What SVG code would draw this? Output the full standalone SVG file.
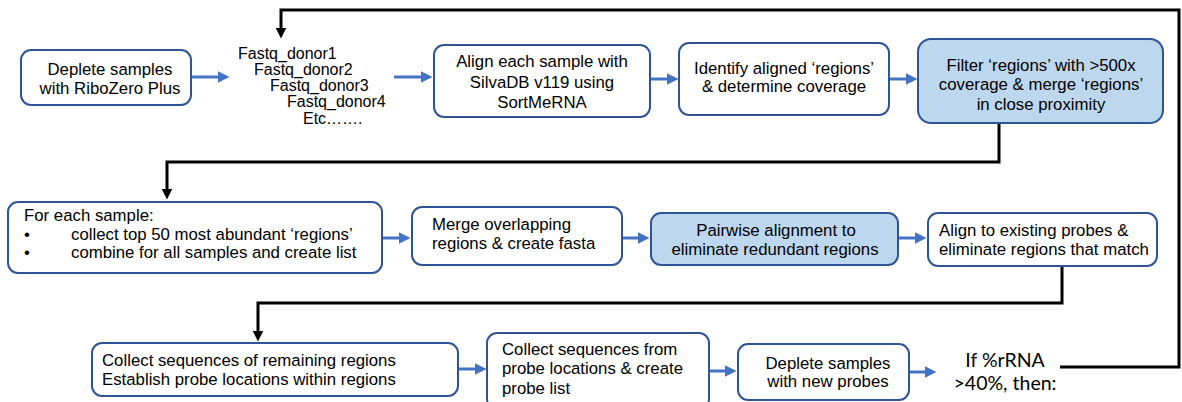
<svg xmlns="http://www.w3.org/2000/svg" width="1182" height="402" viewBox="0 0 1182 402">
<style>
.box{fill:#fff;stroke:#2F5597;stroke-width:2}
.hl{fill:#BDD7EE}
.t{font-family:"Liberation Sans",Arial,sans-serif;font-size:16.8px;fill:#000}
.fq{font-family:"Liberation Sans",Arial,sans-serif;font-size:16px;fill:#000}
.c{text-anchor:middle}
.flow{stroke:#4472C4;stroke-width:3;fill:none;marker-end:url(#ab)}
.loop{stroke:#000;stroke-width:3;fill:none;stroke-linejoin:miter;marker-end:url(#ak)}
.cal{font-family:Lato,"Open Sans",sans-serif;font-size:19.5px;fill:#000;text-anchor:middle}
</style>
<defs>
<marker id="ab" markerUnits="userSpaceOnUse" markerWidth="12" markerHeight="12" viewBox="0 0 12 12" refX="0.5" refY="6" orient="auto"><path d="M0,0 L12,6 L0,12 z" fill="#4472C4"/></marker>
<marker id="ak" markerUnits="userSpaceOnUse" markerWidth="11" markerHeight="11" viewBox="0 0 11 11" refX="0.5" refY="5.5" orient="auto"><path d="M0,0 L11,5.5 L0,11 z" fill="#000"/></marker>
</defs>
<rect width="1182" height="402" fill="#fff"/>
<g id="connectors">
<path class="flow" d="M191,77 H218"/>
<path class="flow" d="M394,77 H421"/>
<path class="flow" d="M650,79 H667"/>
<path class="flow" d="M889,79 H906"/>
<path class="flow" d="M382,238 H399"/>
<path class="flow" d="M622,238 H638"/>
<path class="flow" d="M898,238 H915"/>
<path class="flow" d="M458,369 H475"/>
<path class="flow" d="M709,371 H725"/>
<path class="flow" d="M909,372 H925"/>
<path class="loop" d="M999,123 V162 H167 V189"/>
<path class="loop" d="M1062,266 V303 H258 V331"/>
<path class="loop" d="M1060,367 H1179 V10 H281 V28"/>
</g>
<g id="deplete1">
<rect class="box" x="21" y="50" width="170" height="55" rx="10"/>
<text class="t c" x="110" y="75">Deplete samples</text>
<text class="t c" x="110" y="93.5">with RiboZero Plus</text>
</g>
<g id="fastq">
<text class="fq" x="238" y="58.5">Fastq_donor1</text>
<text class="fq" x="254" y="74.8">Fastq_donor2</text>
<text class="fq" x="270" y="91.1">Fastq_donor3</text>
<text class="fq" x="287" y="107.4">Fastq_donor4</text>
<text class="fq" x="303" y="123.7">Etc…….</text>
</g>
<g id="align">
<rect class="box" x="434" y="45" width="216" height="72" rx="10"/>
<text class="t c" x="542" y="67">Align each sample with</text>
<text class="t c" x="542" y="87.5">SilvaDB v119 using</text>
<text class="t c" x="542" y="108">SortMeRNA</text>
</g>
<g id="identify">
<rect class="box" x="679" y="43" width="210" height="72" rx="10"/>
<text class="t c" x="784" y="73.5">Identify aligned ‘regions’</text>
<text class="t c" x="784" y="92">&amp; determine coverage</text>
</g>
<g id="filter">
<rect class="box hl" x="918" y="39" width="245" height="84" rx="13"/>
<text class="t c" x="1041" y="71">Filter ‘regions’ with &gt;500x</text>
<text class="t c" x="1041" y="90">coverage &amp; merge ‘regions’</text>
<text class="t c" x="1041" y="109.5">in close proximity</text>
</g>
<g id="foreach">
<rect class="box" x="8" y="202" width="374" height="71" rx="10"/>
<text class="t" x="24" y="221">For each sample:</text>
<text class="t" x="24" y="239.5">•</text>
<text class="t" x="71" y="239.5">collect top 50 most abundant ‘regions’</text>
<text class="t" x="24" y="258">•</text>
<text class="t" x="71" y="258">combine for all samples and create list</text>
</g>
<g id="merge">
<rect class="box" x="412" y="207" width="210" height="58" rx="10"/>
<text class="t" x="432" y="230">Merge overlapping</text>
<text class="t" x="432" y="248.5">regions &amp; create fasta</text>
</g>
<g id="pairwise">
<rect class="box hl" x="651" y="213" width="247" height="52" rx="10"/>
<text class="t c" x="776" y="236">Pairwise alignment to</text>
<text class="t c" x="775" y="254.5">eliminate redundant regions</text>
</g>
<g id="alignexisting">
<rect class="box" x="928" y="213" width="229" height="53" rx="10"/>
<text class="t" x="939" y="236">Align to existing probes &amp;</text>
<text class="t" x="939" y="254.5">eliminate regions that match</text>
</g>
<g id="collectremaining">
<rect class="box" x="92" y="343" width="366" height="53" rx="10"/>
<text class="t" x="102" y="366">Collect sequences of remaining regions</text>
<text class="t" x="102" y="385">Establish probe locations within regions</text>
</g>
<g id="collectprobe">
<rect class="box" x="487" y="333" width="222" height="76" rx="10"/>
<text class="t" x="502" y="355">Collect sequences from</text>
<text class="t" x="502" y="373.5">probe locations &amp; create</text>
<text class="t" x="502" y="393.5">probe list</text>
</g>
<g id="depletenew">
<rect class="box" x="738" y="344" width="171" height="56" rx="10"/>
<text class="t c" x="828" y="369">Deplete samples</text>
<text class="t c" x="828" y="387">with new probes</text>
</g>
<g id="condition">
<text class="cal" x="1005" y="367">If %rRNA</text>
<text class="cal" x="1005" y="390">&gt;40%, then:</text>
</g>
</svg>
